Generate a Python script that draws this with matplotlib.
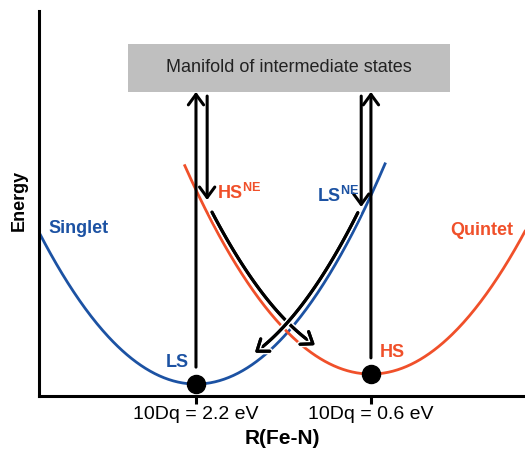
import numpy as np
import matplotlib.pyplot as plt
import matplotlib.patheffects as pe
from matplotlib.patches import FancyArrowPatch, Rectangle
from matplotlib.path import Path

plt.rcParams['font.family'] = ['Liberation Sans', 'DejaVu Sans']
plt.rcParams['mathtext.fontset'] = 'custom'
plt.rcParams['mathtext.bf'] = 'Liberation Sans:bold'
plt.rcParams['mathtext.rm'] = 'Liberation Sans'

BLUE = '#1c52a3'
RED = '#f0502a'

# potential wells (arbitrary units): minimum position, minimum energy, curvature
r_ls, e_ls, k_singlet = 3.23, 0.31, 0.378
r_hs, e_hs, k_quintet = 6.83, 0.57, 0.369
singlet_range = (0.0, 7.12)
quintet_range = (3.0, 10.0)

tick_labels = ['10Dq = 2.2 eV', '10Dq = 0.6 eV']

# vertical transitions to/from the intermediate manifold
manifold_bottom, manifold_top = 7.90, 9.14
manifold_left, manifold_right = 1.83, 8.46
up_x = [r_ls, r_hs]
up_start = [0.75, 0.99]
down_x = [3.46, 6.63]
down_start = 7.79
down_end = [5.09, 4.91]

# relaxation paths running alongside the wells
relax_offset = 0.26
hs_relax_range = (3.56, 5.68)   # HS^NE -> HS along quintet
ls_relax_range = (6.56, 4.44)   # LS^NE -> LS along singlet


def well(r, r0, e0, k):
    return e0 + k * (r - r0) ** 2


fig = plt.figure(figsize=(5.25, 4.49), dpi=100)
ax = fig.add_axes([39 / 525, 53 / 449, 486 / 525, 385 / 449])
ax.set_xlim(0, 10)
ax.set_ylim(0, 10)

r = np.linspace(*singlet_range, 300)
ax.plot(r, well(r, r_ls, e_ls, k_singlet), color=BLUE, lw=2.0, zorder=2)
r = np.linspace(*quintet_range, 300)
ax.plot(r, well(r, r_hs, e_hs, k_quintet), color=RED, lw=2.0, zorder=2)

# manifold box
ax.add_patch(Rectangle((manifold_left, manifold_bottom),
                       manifold_right - manifold_left,
                       manifold_top - manifold_bottom,
                       facecolor='#bfbfbf', edgecolor='none', zorder=1))
ax.text((manifold_left + manifold_right) / 2, (manifold_bottom + manifold_top) / 2,
        'Manifold of intermediate states', ha='center', va='center',
        fontsize=13, color='#222222')

astyle = '->,head_length=0.75,head_width=0.55'
for x, y0 in zip(up_x, up_start):
    ax.add_patch(FancyArrowPatch((x, y0), (x, manifold_bottom), arrowstyle=astyle,
                                 mutation_scale=10, lw=2.2, color='black',
                                 shrinkA=0, shrinkB=0, zorder=3))
for x, y1 in zip(down_x, down_end):
    ax.add_patch(FancyArrowPatch((x, down_start), (x, y1), arrowstyle=astyle,
                                 mutation_scale=10, lw=2.2, color='black',
                                 shrinkA=0, shrinkB=0, zorder=3))

# curved relaxation arrows
for rng, r0, e0, k in [(hs_relax_range, r_hs, e_hs, k_quintet),
                       (ls_relax_range, r_ls, e_ls, k_singlet)]:
    rr = np.linspace(rng[0], rng[1], 60)
    ee = well(rr, r0, e0, k) + relax_offset
    path = Path(np.column_stack([rr, ee]))
    arr = FancyArrowPatch(path=path, arrowstyle=astyle, mutation_scale=10,
                          lw=2.2, color='black', zorder=3)
    arr.set_path_effects([pe.withStroke(linewidth=4.5, foreground='white'),
                          pe.Normal()])
    ax.add_patch(arr)

# equilibrium points
ax.plot([r_ls, r_hs], [e_ls, e_hs], 'o', color='black', ms=13, zorder=4,
        clip_on=False)

# labels
bold = dict(fontsize=13, fontweight='bold')
ax.text(0.19, 4.34, 'Singlet', color=BLUE, ha='left', va='center', **bold)
ax.text(8.46, 4.29, 'Quintet', color=RED, ha='left', va='center', **bold)
ax.text(2.84, 0.86, 'LS', color=BLUE, ha='center', va='center', **bold)
ax.text(7.26, 1.12, 'HS', color=RED, ha='center', va='center', **bold)
ax.text(3.66, 5.27, r'$\mathbf{HS^{NE}}$', color=RED, ha='left', va='center',
        fontsize=13)
ax.text(5.72, 5.2, r'$\mathbf{LS^{NE}}$', color=BLUE, ha='left', va='center',
        fontsize=13)

# axes
for side in ['top', 'right']:
    ax.spines[side].set_visible(False)
for side in ['left', 'bottom']:
    ax.spines[side].set_linewidth(2.2)
ax.set_yticks([])
ax.set_xticks([r_ls, r_hs])
ax.set_xticklabels(tick_labels, fontsize=14)
ax.tick_params(axis='x', direction='out', length=5.5, width=2.2, pad=2)
ax.set_xlabel('R(Fe-N)', fontsize=15, fontweight='bold', labelpad=4)
fig.text(19 / 525, 1 - 200 / 449, 'Energy', rotation=90, ha='center',
         va='center', fontsize=13, fontweight='bold')

fig.savefig('out.png', dpi=100)
